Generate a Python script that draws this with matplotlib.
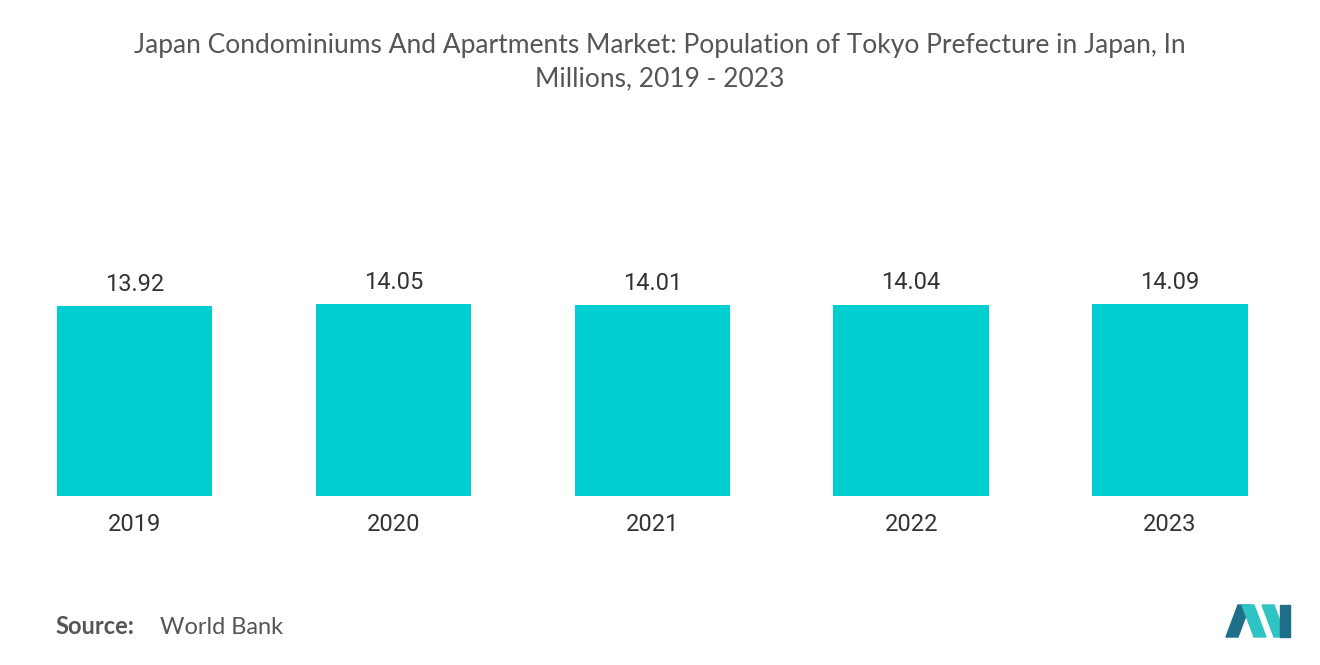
import matplotlib
matplotlib.use("Agg")
import matplotlib.pyplot as plt
from matplotlib.patches import Polygon

years = ["2019", "2020", "2021", "2022", "2023"]
population = [13.92, 14.05, 14.01, 14.04, 14.09]

fig = plt.figure(figsize=(13.2, 6.65), dpi=100)
W, H = 1320, 665
ax = fig.add_axes([5 / W, 1 - 496 / H, 1294.5 / W, 296 / H])
ax.bar(range(len(years)), population, width=0.6, color="#00CED1")
ax.set_xlim(-0.5, 4.5)
ax.set_ylim(0, 296 / 13.63)
for i, v in enumerate(population):
    ax.text(i, v + 0.75, f"{v:.2f}", ha="center", va="bottom", fontsize=17, color="#333333", family="Roboto")
ax.set_xticks(range(len(years)))
ax.set_xticklabels(years, fontsize=17, color="#333333", family="Roboto")
ax.tick_params(axis="x", length=0, pad=12)
ax.set_yticks([])
for s in ax.spines.values():
    s.set_visible(False)

fig.text(0.5, 1 - 62 / H, "Japan Condominiums And Apartments Market: Population of Tokyo Prefecture in Japan, In\nMillions, 2019 - 2023",
         ha="center", va="center", fontsize=19, color="#555555", family="Lato", linespacing=1.45)
fig.text(55 / W, 1 - 627 / H, "Source:", fontsize=17, color="#555555", family="Lato", fontweight="bold", va="center")
fig.text(160 / W, 1 - 627 / H, "World Bank", fontsize=17, color="#555555", family="Lato", va="center")

def px(pts):
    return [(x / W, 1 - y / H) for x, y in pts]
fig.patches.append(Polygon(px([(1226, 637), (1238, 605), (1250, 605), (1238, 637)]), closed=True, transform=fig.transFigure, color="#1f6f8b"))
fig.patches.append(Polygon(px([(1242, 605), (1254, 605), (1266, 637), (1254, 637)]), closed=True, transform=fig.transFigure, color="#2ec4c4"))
fig.patches.append(Polygon(px([(1262, 605), (1274, 605), (1286, 637), (1274, 637)]), closed=True, transform=fig.transFigure, color="#2ec4c4"))
fig.patches.append(Polygon(px([(1280, 605), (1290, 605), (1290, 637), (1280, 637)]), closed=True, transform=fig.transFigure, color="#1f6f8b"))

fig.savefig("out.png", dpi=100)
